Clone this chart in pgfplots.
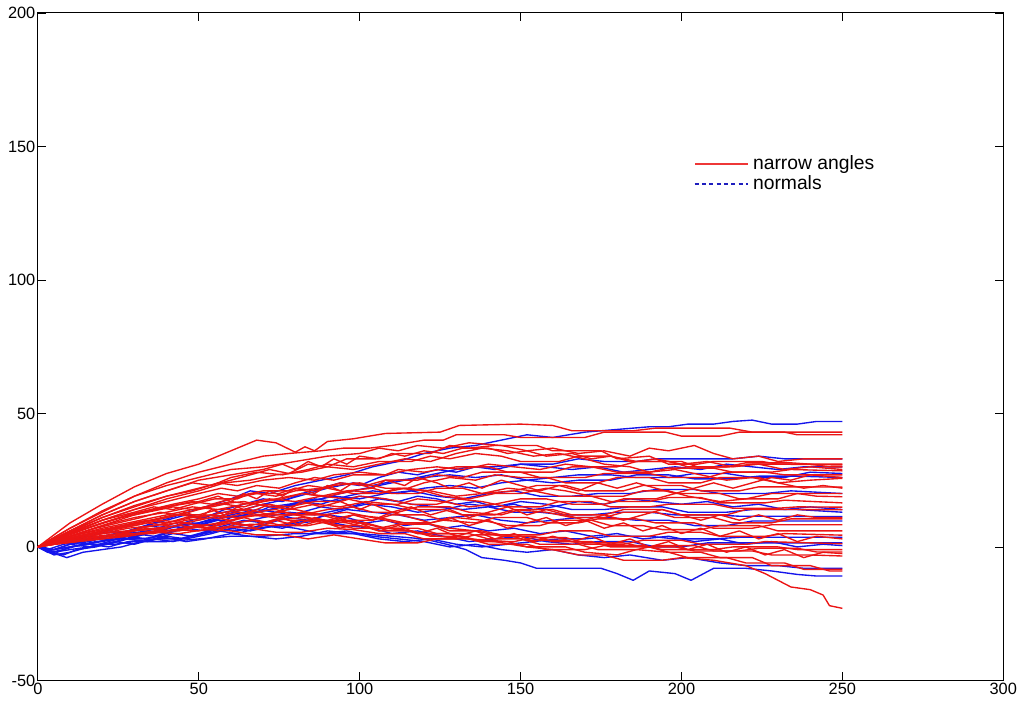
\documentclass[border=0pt]{standalone}
\usepackage{fontspec}
\setmainfont{Liberation Sans}
\usepackage{pgfplots}
\pgfplotsset{compat=1.18}

\definecolor{mred}{RGB}{235,20,20}
\definecolor{mblue}{RGB}{20,20,235}
\definecolor{mnavy}{RGB}{30,30,190}

\begin{document}
\begin{tikzpicture}
\begin{axis}[
  scale only axis,
  width=16.17cm, height=11.18cm,
  xmin=0, xmax=300, ymin=-50, ymax=200,
  xtick={0,50,...,300}, ytick={-50,0,...,200},
  tick align=inside,
  major tick length=0.14cm,
  axis line style={line width=0.5pt},
  tick style={line width=0.4pt, black},
  tick label style={font=\fontsize{7.8}{9}\selectfont, inner sep=1pt},
  /pgf/number format/assume math mode=true,
  legend style={at={(0.677,0.797)}, anchor=north west, draw=white, fill=white,
    font=\fontsize{9.2}{10}\selectfont, row sep=-2.5pt, inner sep=1pt},
  legend cell align=left,
  rl/.style={mred, line width=0.65pt, line join=round, forget plot},
  bl/.style={mblue, line width=0.65pt, line join=round, forget plot},
]
\addlegendimage{legend image code/.code={\fill[fill=mred!85!white, draw=none] (0cm,-0.4pt) rectangle (0.9cm,0.4pt);}}
\addlegendentry{narrow angles}
\addlegendimage{legend image code/.code={\draw[draw=mnavy, line width=0.55pt, dash pattern=on 2pt off 1.5pt] (0cm,0cm) -- (0.9cm,0cm);}}
\addlegendentry{normals}

% normals (blue)
\addplot[bl] coordinates {(0,0)(3,-1)(8,1)(14,2)(20,4)(28,6)(36,9)(44,12)(52,15)(60,18)(66,21)(72,20)(80,23)(88,25)(96,27)(104,30)(112,32)(120,35)(128,37)(136,38)(144,40)(152,42)(160,41)(170,43)(180,44)(190,45)(196,45)(202,46)(210,46)(216,47)(222,47.5)(228,46)(236,46)(242,47)(250,47)};
\addplot[bl] coordinates {(0,0)(4,-2)(8,-1)(14,1)(20,2)(28,4)(34,6)(40,5)(46,8)(54,10)(60,12)(68,14)(74,13)(80,16)(88,18)(94,20)(102,22)(110,24)(118,26)(126,28)(134,30)(142,30)(150,31)(160,31)(168,33)(176,32)(186,32)(192,33)(210,33)(216,33)(224,34)(232,33)(250,33)};
\addplot[bl] coordinates {(0,0)(5,-3)(10,-2)(16,0)(24,2)(30,4)(38,6)(44,8)(50,9)(58,12)(64,14)(70,16)(78,18)(84,20)(90,22)(98,24)(104,23)(112,25)(120,26)(128,27)(136,26)(144,27)(152,25)(160,26)(168,27)(178,27)(186,26)(196,26)(204,27.5)(214,27.5)(222,26)(232,26)(240,28)(250,27.5)};
\addplot[bl] coordinates {(0,0)(4,1)(10,2)(16,3)(22,3)(28,5)(34,6)(40,8)(46,7)(52,9)(58,11)(66,12)(72,15)(78,16)(86,18)(92,17)(100,19)(108,18)(116,16)(124,15)(132,14)(140,15)(148,13)(156,13)(164,12)(172,12)(180,13)(190,13)(198,12)(210,12)(218,11.5)(232,11.5)(240,11.4)(250,11.4)};
\addplot[bl] coordinates {(0,0)(6,-2)(10,0)(16,1)(22,0)(28,2)(36,3)(42,2)(48,4)(56,6)(62,5)(68,7)(76,8)(84,10)(90,12)(96,14)(104,13)(112,12)(120,10)(128,11)(136,12)(144,10)(152,9)(160,10)(168,11)(178,11)(186,10)(196,10)(204,8)(214,8)(222,9.7)(250,9.7)};
\addplot[bl] coordinates {(0,0)(5,-1)(10,0)(18,2)(26,3)(32,3)(38,4)(46,2)(52,3)(60,5)(66,4)(74,3)(82,4)(90,6)(98,5)(106,3)(114,2)(122,3)(130,1)(138,0)(146,1)(154,2)(162,3)(170,3)(178,4)(190,4)(198,3)(210,3)(218,3.6)(250,3.6)};
\addplot[bl] coordinates {(0,0)(4,-2)(9,-4)(14,-2)(20,-1)(26,0)(32,2)(38,3)(44,3)(50,5)(56,7)(62,6)(70,8)(76,7)(82,9)(88,10)(96,8)(104,7)(110,5)(118,6)(126,4)(134,2)(142,3)(150,4)(158,2)(166,1)(174,2)(184,2)(192,0)(200,0)(208,1.5)(250,1.5)};
\addplot[bl] coordinates {(0,0)(5,-1)(10,0)(16,1)(24,1)(30,2)(40,2)(50,3)(60,4)(70,4)(80,5)(90,5)(100,5)(110,4)(120,3)(127,1)(133,-1)(138,-4)(145,-5)(150,-6)(155,-8)(165,-8)(175,-8)(180,-10)(185,-12.5)(190,-9)(198,-10)(203,-12.5)(210,-8)(220,-8)(228,-9)(236,-10.3)(242,-10.9)(250,-10.9)};
\addplot[bl] coordinates {(0,0)(5,-1)(10,1)(16,2)(22,4)(28,3)(34,5)(40,7)(48,9)(54,8)(60,11)(68,13)(76,15)(82,17)(88,16)(96,19)(104,21)(112,20)(120,22)(128,23)(136,22)(144,24)(152,25)(160,24)(168,25)(178,25)(186,27)(196,27)(204,25.5)(216,25.5)(224,26.5)(236,26.5)(250,26)};
\addplot[bl] coordinates {(0,0)(4,1)(10,2)(16,1)(22,3)(30,5)(36,4)(42,6)(50,8)(56,10)(62,9)(70,11)(78,13)(86,12)(94,14)(102,16)(110,15)(118,13)(126,14)(134,16)(142,15)(150,17)(158,16)(166,14)(176,14)(184,15)(194,15)(202,13)(214,13)(222,14)(236,14)(250,13)};
\addplot[bl] coordinates {(0,0)(5,-2)(10,-1)(16,0)(22,1)(28,3)(34,2)(40,4)(46,3)(54,5)(60,7)(66,6)(74,8)(80,7)(88,5)(96,6)(104,4)(112,3)(120,2)(128,0)(136,1)(144,-1)(152,-2)(160,-1)(168,-3)(176,-4)(184,-3)(194,-5)(202,-4)(212,-6)(220,-7)(230,-7)(238,-8)(250,-8)};
\addplot[bl] coordinates {(0,0)(4,1)(10,3)(16,4)(22,3)(28,6)(34,8)(40,7)(48,10)(54,12)(62,14)(68,13)(76,15)(84,17)(92,19)(100,18)(108,20)(116,21)(124,19)(132,18)(140,20)(148,21)(156,19)(166,19)(174,20)(184,20)(192,21.5)(204,21.5)(212,20)(226,20)(234,21)(250,20)};
\addplot[bl] coordinates {(0,0)(3,-2)(8,-3)(12,-1)(18,0)(24,2)(30,1)(36,3)(42,5)(48,4)(54,6)(60,8)(66,7)(72,9)(78,11)(84,10)(90,12)(96,11)(102,9)(108,10)(114,8)(120,9)(126,7)(132,8)(140,6)(148,7)(156,5)(164,6)(172,4)(180,5)(188,3)(196,4)(204,2)(212,3)(220,1)(228,2)(236,0)(244,1)(250,0.5)};
\addplot[bl] coordinates {(0,0)(4,1)(10,2)(16,4)(22,6)(28,5)(34,8)(40,10)(46,12)(52,11)(58,14)(64,16)(70,18)(76,17)(82,20)(88,22)(94,24)(100,23)(106,26)(112,28)(118,27)(124,29)(130,28)(136,30)(142,29)(150,31)(158,30)(166,29)(174,30)(182,28)(190,29)(198,30)(206,29)(214,31)(222,30)(230,29)(238,30)(250,30)};
\addplot[bl] coordinates {(0,0)(5,-1)(10,1)(16,0)(22,2)(28,4)(34,3)(40,5)(46,7)(52,6)(58,8)(64,10)(70,9)(76,11)(82,13)(88,15)(94,14)(100,16)(106,18)(112,17)(118,19)(124,18)(130,16)(136,17)(142,15)(148,16)(154,14)(160,15)(168,17)(176,16)(184,18)(192,17)(200,16)(208,17)(216,15)(224,16)(232,14)(240,15)(250,14)};

% narrow angles (red)
\addplot[rl] coordinates {(0,0)(5,4.5)(10,9)(20,16)(30,22.5)(40,27.5)(50,31)(60,36)(68,40)(74,39)(80,35.5)(83,37.5)(86,36)(90,39.5)(98,40.5)(108,42.5)(125,43)(131,45.5)(150,46)(160,45.5)(166,43.5)(185,43.5)(192,44.5)(215,44.5)(222,43)(250,43)};
\addplot[rl] coordinates {(0,0)(5,3.5)(10,7)(20,13)(30,19)(40,24)(50,28)(60,31)(70,34)(78,35)(88,36)(95,37)(103,37)(110,38)(120,40)(126,40)(130,42)(145,42)(150,41)(170,41)(176,43)(195,43)(200,41.5)(212,41.5)(218,43)(232,43)(236,42)(250,42)};
\addplot[rl] coordinates {(0,0)(5,3)(10,6)(20,11)(30,15)(40,19)(50,22)(60,25)(66,27)(72,29)(78,27.5)(84,31)(90,30)(96,33)(105,33)(112,35)(122,35)(128,38)(134,37)(142,38)(155,38)(160,36)(175,36)(180,33)(190,34)(196,31)(205,31)(210,32)(225,32)(230,31)(250,30.7)};
\addplot[rl] coordinates {(0,0)(5,2.5)(10,5)(20,10)(30,14)(40,17)(50,20)(57,22)(62,21)(68,23)(75,22)(80,24)(86,26)(92,25)(98,27)(108,27)(112,29)(120,28)(130,30)(140,30)(146,28)(160,28)(166,30)(180,30)(186,32)(200,32)(205,30)(215,30)(222,31)(240,31)(246,30)(250,30)};
\addplot[rl] coordinates {(0,0)(4,2)(10,4.5)(20,9)(30,12.5)(40,15)(48,17)(54,16)(60,18)(68,20)(74,19)(80,21)(88,22)(94,24)(102,23)(108,25)(118,25)(124,27)(132,26)(138,28)(150,28)(156,26)(170,26)(176,27.5)(190,27.5)(196,26)(208,26)(214,28)(226,28)(232,27)(250,27)};
\addplot[rl] coordinates {(0,0)(5,3)(10,5.5)(20,10)(30,13)(36,15)(42,14)(48,16)(55,18)(62,18)(66,20)(75,20)(80,22)(86,21)(92,23)(100,24)(108,22)(115,22)(120,24)(128,26)(136,25)(142,27)(150,26)(158,26)(164,24)(174,24)(180,26)(190,26)(196,24)(206,24)(212,26)(224,26)(230,24)(240,25)(250,25.7)};
\addplot[rl] coordinates {(0,0)(5,2)(10,4)(18,7)(25,9)(32,11)(38,13)(44,12)(50,14)(58,16)(64,15)(70,17)(76,18)(82,20)(88,19)(96,21)(104,22)(110,20)(118,20)(124,22)(132,22)(138,20)(148,21)(155,23)(164,23)(170,21)(182,21)(188,23)(200,23)(206,21)(218,21)(224,22.5)(236,22.5)(250,22.4)};
\addplot[rl] coordinates {(0,0)(5,2.5)(10,5)(20,9)(28,12)(35,14)(42,16)(50,18)(56,20)(62,19)(70,21)(78,21)(84,23)(90,22)(98,20)(106,20)(112,22)(120,21)(126,19)(134,18)(142,20)(150,20)(158,22)(164,21)(172,19)(182,19)(188,21)(196,21)(202,19)(212,17)(220,18)(228,20)(236,20)(242,19)(250,18.8)};
\addplot[rl] coordinates {(0,0)(5,2)(12,4)(20,6)(28,8)(35,10)(42,12)(50,12)(56,14)(64,14)(70,16)(78,15)(86,17)(94,17)(100,19)(108,18)(116,16)(124,16)(130,18)(138,17)(146,15)(156,15)(162,17)(172,17)(178,15)(190,15)(196,16)(210,16)(216,14.5)(230,14.5)(236,15)(250,14.9)};
\addplot[rl] coordinates {(0,0)(5,1.5)(10,3)(18,5)(26,7)(34,9)(40,8)(46,10)(54,11)(60,10)(68,12)(76,13)(82,12)(90,14)(98,15)(104,13)(112,13)(118,15)(128,15)(134,13)(144,12)(150,14)(160,14)(166,12)(176,12)(182,14)(194,14)(200,12)(214,12)(220,14)(236,14)(250,13.9)};
\addplot[rl] coordinates {(0,0)(6,2)(12,3)(20,5)(28,6)(36,8)(44,9)(52,8)(60,10)(66,12)(74,11)(82,13)(90,12)(96,10)(104,10)(110,12)(120,12)(126,10)(136,9)(142,11)(152,11)(158,9)(168,9)(174,10.5)(186,10.5)(192,9)(204,9)(210,7)(222,7)(228,8.3)(250,8.3)};
\addplot[rl] coordinates {(0,0)(5,1)(12,2)(20,3)(28,4.5)(36,6)(44,6)(50,7.5)(58,7)(66,8.5)(74,8)(82,10)(90,9)(98,7)(106,7)(112,8.5)(122,8.5)(128,6)(138,6)(144,4.5)(156,4.5)(162,6)(172,6)(178,4)(190,4)(196,5.5)(206,5.5)(212,4)(226,4)(232,5)(250,4.4)};
\addplot[rl] coordinates {(0,0)(5,1)(12,2.5)(20,4)(28,5)(36,5)(42,6.5)(50,6)(58,7.5)(66,7)(74,5.5)(82,5.5)(90,7)(98,6.5)(106,5)(114,5)(120,3)(130,3)(136,4.5)(146,4.5)(152,2.5)(164,2.5)(170,1)(182,1)(188,2.5)(200,2.5)(206,1)(220,1)(226,2)(250,1.2)};
\addplot[rl] coordinates {(0,0)(5,2)(10,4)(18,6)(26,8)(34,10)(40,9)(46,11)(54,12)(62,11)(70,12)(78,10)(86,10)(92,8)(100,8)(106,6)(116,6)(122,4)(132,4)(138,2)(148,2)(154,3.5)(164,3.5)(170,1.5)(182,1.5)(188,0)(198,0)(204,-1.5)(218,-1.5)(224,-0.5)(236,-0.5)(242,-1.9)(250,-1.9)};
\addplot[rl] coordinates {(0,0)(5,1.5)(12,3)(20,5)(28,7)(36,8)(44,10)(52,12)(58,11)(66,13)(74,14)(80,12)(88,12)(94,10)(102,9)(108,7)(118,7)(124,5)(134,5)(140,3)(150,3)(156,1)(168,1)(174,-1)(186,-1)(192,0.5)(204,0.5)(210,-1.5)(222,-1.5)(228,-3)(240,-3)(250,-3.4)};
\addplot[rl] coordinates {(0,0)(5,2)(12,4)(20,6)(28,8)(36,10)(44,12)(50,11)(58,13)(66,14)(72,12)(80,12)(88,10)(96,9)(104,7)(112,7)(118,5)(128,5)(134,3)(146,2)(152,0)(164,0)(170,-2)(180,-3)(186,-1)(196,-2)(202,-4)(214,-4)(220,-6)(232,-6)(238,-8.4)(250,-8.4)};
\addplot[rl] coordinates {(0,0)(5,1.5)(12,3)(20,5)(28,6)(36,7)(44,8)(52,7)(60,9)(68,10)(76,8)(84,8)(92,10)(100,9)(108,7)(116,6)(124,4)(134,3)(142,2)(152,0)(160,-1)(168,-3)(176,-3)(182,-5)(194,-5)(200,-4)(210,-5)(220,-7)(226,-10)(234,-15)(240,-16)(244,-18)(246,-22)(250,-23)};
\addplot[rl] coordinates {(0,0)(5,2.5)(10,5)(18,8)(26,11)(34,13)(42,15)(48,14)(56,16)(64,17)(72,15)(80,14)(88,12)(96,13)(104,11)(112,9)(120,9)(128,7)(136,6)(144,4)(154,4)(160,2)(172,2)(178,0)(190,0)(196,-2)(206,-2)(212,-4)(222,-4)(228,-7)(240,-7)(246,-9)(250,-9)};
\addplot[rl] coordinates {(0,0)(5,3)(10,6)(20,12)(30,17)(40,21)(48,24)(54,23)(60,26)(68,28)(76,27)(84,29)(90,31)(98,30)(106,32)(116,32)(122,34)(128,33)(136,35)(144,34)(150,32)(162,32)(168,34)(178,34)(184,32)(196,32)(202,30)(214,30)(220,31.5)(234,31.5)(240,31)(250,31)};
\addplot[rl] coordinates {(0,0)(5,2)(10,4)(20,8)(30,11)(40,13)(48,15)(56,14)(64,16)(72,18)(80,17)(88,19)(96,18)(104,16)(112,16)(118,18)(126,17)(134,15)(142,16)(150,18)(158,18)(166,16)(176,16)(182,18)(192,18)(198,20)(212,20)(218,18)(230,18)(236,20)(250,20)};
\addplot[rl] coordinates {(0,0)(5,1.5)(10,3)(20,6)(30,8)(38,10)(46,9)(54,11)(62,13)(70,12)(78,14)(86,16)(94,15)(102,17)(110,16)(118,14)(126,14)(132,12)(142,12)(148,14)(158,13)(166,11)(176,11)(182,13)(192,13)(198,11)(210,11)(216,9)(228,9)(234,10.5)(250,10.5)};
\addplot[rl] coordinates {(0,0)(5,2)(12,4.5)(20,7)(28,9)(36,11)(44,13)(52,15)(60,17)(66,16)(74,18)(82,20)(90,19)(98,21)(106,20)(114,22)(122,21)(130,19)(138,20)(146,22)(154,21)(162,19)(172,19)(178,17)(190,17)(196,18.5)(206,18.5)(212,16.5)(226,16.5)(232,17.5)(250,16.5)};
\addplot[rl] coordinates {(0,0)(5,1)(10,2)(18,4)(26,5)(34,7)(42,6)(50,8)(58,9)(66,8)(74,10)(82,11)(90,10)(98,12)(106,11)(114,9)(122,9)(130,11)(138,10)(146,8)(156,8)(162,10)(172,10)(178,8)(188,8)(194,6.5)(206,6.5)(212,8)(224,8)(230,6)(250,6)};
\addplot[rl] coordinates {(0,0)(5,2.5)(10,5.5)(20,11)(30,15.5)(40,19)(48,21)(56,24)(62,23)(70,25)(78,26)(86,25)(92,27)(100,28)(108,27)(116,29)(124,30)(132,29)(140,31)(148,30)(156,29)(164,31)(172,30)(180,28)(190,28)(196,29.5)(210,29.5)(216,28)(228,28)(234,29)(250,28.5)};
\addplot[rl] coordinates {(0,0)(5,2.5)(10,5)(20,10)(30,14)(40,18)(50,21)(58,24)(66,25)(74,27)(82,28)(90,30)(98,29)(106,31)(114,33)(122,32)(130,35)(138,37)(146,36)(154,34)(162,35)(170,33)(176,31)(184,30)(190,28)(198,29)(206,27)(214,25)(222,26)(230,24)(238,22)(244,23)(250,22)};
\addplot[rl] coordinates {(0,0)(5,1)(12,2)(20,3)(28,4)(36,5.5)(44,5)(52,6.5)(60,6)(68,4.5)(76,4.5)(84,3)(92,4.5)(100,3)(108,1.5)(118,1.5)(124,3)(134,3)(140,1)(152,1)(158,-1)(170,-1)(176,0.5)(188,0.5)(194,-1)(210,-1)(216,0)(230,0)(236,-1)(250,-1)};
\addplot[rl] coordinates {(0,0)(5,3)(10,6)(20,12)(30,17)(40,21)(50,25)(60,27)(70,29)(76,31)(80,29)(84,32)(88,30)(92,33)(96,31)(100,34)(106,33)(110,35)(114,34)(120,36)(126,35)(132,37)(140,37)(146,35)(152,36)(158,34)(166,35)(172,33)(178,34)(186,32)(192,33)(200,31)(208,32)(216,30)(224,31)(232,29)(240,30)(250,29)};
\addplot[rl] coordinates {(0,0)(5,2)(10,4)(20,8)(30,12)(40,15)(50,17)(56,19)(60,17)(64,20)(68,18)(72,21)(76,19)(80,22)(86,20)(90,23)(94,21)(98,24)(104,22)(108,25)(114,23)(118,26)(124,24)(128,22)(134,24)(138,22)(144,25)(150,23)(156,21)(162,23)(168,21)(174,24)(180,22)(186,24)(192,22)(198,20)(204,22)(210,24)(216,22)(222,24)(228,26)(234,25)(240,27)(250,26)};
\addplot[rl] coordinates {(0,0)(5,1.5)(10,3)(20,6)(30,9)(40,11)(46,13)(50,11)(54,14)(58,12)(62,15)(66,13)(72,16)(78,14)(82,17)(88,15)(94,17)(100,14)(104,16)(110,13)(116,15)(122,12)(128,14)(134,11)(140,13)(146,15)(152,12)(158,14)(164,12)(170,10)(176,12)(182,10)(188,12)(194,14)(200,12)(206,10)(212,12)(218,10)(224,12)(230,10)(236,12)(242,11)(250,11)};
\addplot[rl] coordinates {(0,0)(5,1)(10,2)(20,4)(30,6)(40,7)(46,9)(52,7)(58,9)(64,11)(70,9)(76,11)(82,8)(88,10)(94,7)(100,9)(106,6)(112,8)(118,5)(124,7)(130,4)(136,6)(142,3)(148,5)(154,2)(160,4)(166,2)(172,4)(178,1)(184,3)(190,0)(196,2)(202,-1)(208,1)(214,-2)(220,0)(226,-3)(232,-1)(238,-4)(244,-2)(250,-2.5)};
\addplot[rl] coordinates {(0,0)(5,3.5)(10,7)(20,13.5)(30,19)(40,23)(50,26)(60,29)(70,30)(80,32)(90,34)(100,35)(106,37)(112,36)(118,38)(126,37)(134,39)(144,38)(152,36)(160,37)(168,35)(176,36)(184,34)(190,37)(196,36)(204,38)(210,35)(216,33)(224,34)(230,32)(238,33)(250,33)};
\addplot[rl] coordinates {(0,0)(5,1)(12,2)(20,3.5)(30,5)(40,6)(50,8)(56,6)(62,9)(68,7)(74,10)(80,8)(86,11)(92,9)(98,12)(104,10)(110,13)(116,11)(122,9)(128,11)(134,8)(140,10)(146,7)(152,9)(158,11)(164,8)(170,10)(176,7)(182,9)(188,6)(194,8)(200,5)(206,7)(212,4)(218,6)(224,3)(230,5)(236,2)(242,4)(250,3)};
\end{axis}
\path ([xshift=-0.634cm,yshift=-0.35cm]current axis.south west) rectangle ([xshift=0.2cm,yshift=0.217cm]current axis.north east);
\end{tikzpicture}
\end{document}
